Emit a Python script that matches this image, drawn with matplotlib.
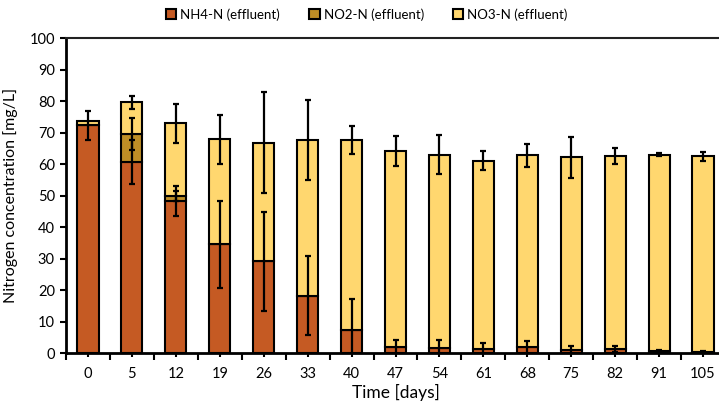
import matplotlib
matplotlib.use("Agg")
import matplotlib.pyplot as plt
import numpy as np
from matplotlib.patches import Patch

plt.rcParams['font.family'] = ['Lato', 'DejaVu Sans']

days = ["0", "5", "12", "19", "26", "33", "40", "47", "54", "61", "68", "75", "82", "91", "105"]

nh4 = [72.3, 60.6, 48.2, 34.5, 29.1, 18.2, 7.3, 1.8, 1.6, 1.2, 1.8, 1.0, 1.2, 0.5, 0.2]
no2 = [0.0, 9.0, 1.6, 0.0, 0.0, 0.0, 0.0, 0.0, 0.0, 0.0, 0.0, 0.0, 0.0, 0.0, 0.0]
no3 = [1.4, 10.0, 23.1, 33.3, 37.7, 49.4, 60.3, 62.3, 61.3, 59.8, 60.9, 61.2, 61.3, 62.4, 62.3]

nh4_err = [4.6, 7.0, 4.7, 13.9, 15.7, 12.6, 9.8, 2.2, 2.5, 2.0, 2.0, 1.2, 1.0, 0.3, 0.3]
no2_err = [0.0, 5.0, 1.5, 0, 0, 0, 0, 0, 0, 0, 0, 0, 0, 0, 0]
no3_err = [0.0, 2.1, 6.2, 7.8, 16.1, 12.7, 4.5, 4.8, 6.2, 3.0, 3.7, 6.5, 2.6, 0.5, 1.4]

c_nh4 = "#C55A23"
c_no2 = "#BE8E26"
c_no3 = "#FFD76F"

x = np.arange(len(days))
nh4 = np.array(nh4); no2 = np.array(no2); no3 = np.array(no3)

fig = plt.figure(figsize=(7.19, 4.11), dpi=100)
ax = fig.add_axes([66/719, 58/411, 659/719, 315/411])

w = 0.48
lw = 1.5
ax.bar(x, nh4, w, color=c_nh4, edgecolor="black", linewidth=lw, zorder=2)
ax.bar(x, no2, w, bottom=nh4, color=c_no2, edgecolor="black", linewidth=lw, zorder=2)
ax.bar(x, no3, w, bottom=nh4 + no2, color=c_no3, edgecolor="black", linewidth=lw, zorder=2)

ekw = dict(fmt="none", ecolor="black", elinewidth=1.6, capsize=2, capthick=1.6, zorder=3)
ax.errorbar(x, nh4, yerr=nh4_err, **ekw)
m2 = np.array(no2_err) > 0
ax.errorbar(x[m2], (nh4 + no2)[m2], yerr=np.array(no2_err)[m2], **ekw)
m3 = np.array(no3_err) > 0
ax.errorbar(x[m3], (nh4 + no2 + no3)[m3], yerr=np.array(no3_err)[m3], **ekw)

ax.set_xlim(-0.5, len(days) - 0.5)
ax.set_ylim(0, 100)
ax.set_yticks(np.arange(0, 101, 10))
ax.set_xticks(np.arange(-0.5, len(days), 1.0))
ax.set_xticklabels([])
ax.set_xticks(x, minor=True)
ax.set_xticklabels(days, minor=True)

ax.tick_params(axis="y", direction="out", length=4, width=1.5, labelsize=10.5, colors="black", pad=4)
ax.tick_params(axis="x", which="major", direction="out", length=5, width=1.5)
ax.tick_params(axis="x", which="minor", direction="out", length=3, width=1.5, labelsize=10.5, pad=7)

for s in ["left", "bottom"]:
    ax.spines[s].set_linewidth(2)
    ax.spines[s].set_color("black")
ax.spines["top"].set_linewidth(1.5)
ax.spines["top"].set_color("#222222")
ax.spines["right"].set_visible(False)

ax.set_xlabel("Time [days]", fontsize=12.5, labelpad=2)
ax.set_ylabel("Nitrogen concentration [mg/L]", fontsize=11.5, labelpad=8)

handles = [Patch(facecolor=c, edgecolor="black", linewidth=1.5) for c in (c_nh4, c_no2, c_no3)]
fig.legend(handles, ["NH4-N (effluent)", "NO2-N (effluent)", "NO3-N (effluent)"],
           loc="center", bbox_to_anchor=(0.51, 0.965), ncol=3, frameon=False,
           fontsize=9.5, handlelength=0.8, handleheight=0.8, handletextpad=0.3,
           columnspacing=2.2)

fig.savefig("out.png", dpi=100)
